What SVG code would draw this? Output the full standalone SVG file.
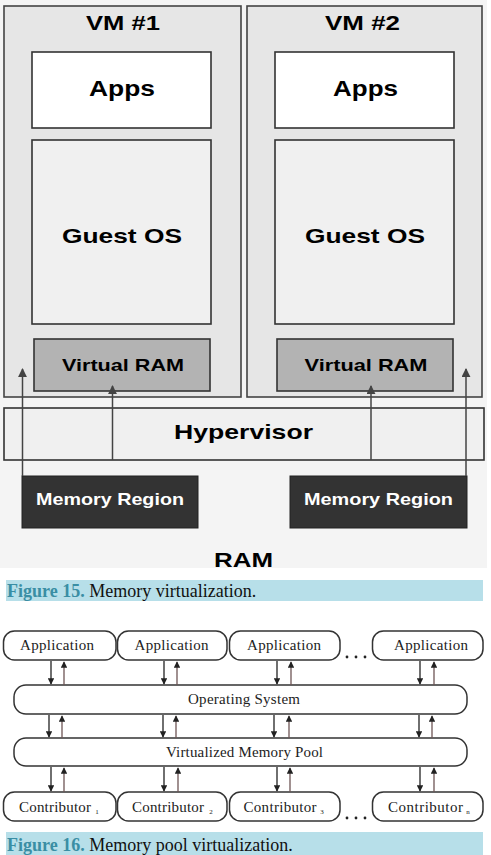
<svg xmlns="http://www.w3.org/2000/svg" width="491" height="855" viewBox="0 0 491 855">
<style>
.b{font-family:"Liberation Sans",Arial,sans-serif;font-weight:bold;text-anchor:middle}
.vm{fill:#e6e6e6;stroke:#444;stroke-width:1.6}
.box{stroke:#333;stroke-width:1.6}
.s{font-family:"Liberation Serif","Times New Roman",serif;font-size:15px;fill:#222;text-anchor:middle}
.sub{font-family:"Liberation Serif","Times New Roman",serif;font-size:7px;fill:#222;text-anchor:middle}
.rb{fill:#fff;stroke:#333;stroke-width:1.5}
.dn{stroke:#222;stroke-width:1.3;marker-end:url(#hd)}
.up{stroke:#6e5555;stroke-width:1.3;marker-end:url(#hu)}
.ar{stroke:#444;stroke-width:1.5;fill:none;marker-end:url(#ha)}
.cap{font-family:"Liberation Serif","Times New Roman",serif;font-size:18px}
</style>
<defs>
<marker id="ha" viewBox="0 0 10 10" refX="9" refY="5" markerWidth="6" markerHeight="6" orient="auto" markerUnits="strokeWidth"><path d="M0,0 L10,5 L0,10 z" fill="#444"/></marker>
<marker id="hd" viewBox="0 0 10 10" refX="9" refY="5" markerWidth="5" markerHeight="5" orient="auto" markerUnits="strokeWidth"><path d="M0,0 L10,5 L0,10 z" fill="#222"/></marker>
<marker id="hu" viewBox="0 0 10 10" refX="9" refY="5" markerWidth="5" markerHeight="5" orient="auto" markerUnits="strokeWidth"><path d="M0,0 L10,5 L0,10 z" fill="#222"/></marker>
</defs>
<rect width="491" height="855" fill="#fff"/>
<rect x="0" y="0" width="487" height="568" fill="#f4f4f4"/>
<g id="vm1">
<rect class="vm" x="4" y="6" width="237" height="391"/>
<text class="b" x="123" y="30" font-size="21" textLength="74" lengthAdjust="spacingAndGlyphs">VM #1</text>
</g>
<g id="vm2">
<rect class="vm" x="247" y="6" width="235" height="391"/>
<text class="b" x="362.5" y="30" font-size="21" textLength="75" lengthAdjust="spacingAndGlyphs">VM #2</text>
</g>
<g id="apps1">
<rect class="box" fill="#fff" x="32" y="52" width="179" height="76"/>
<text class="b" x="122" y="96" font-size="22" textLength="66" lengthAdjust="spacingAndGlyphs">Apps</text>
</g>
<g id="apps2">
<rect class="box" fill="#fff" x="275" y="52" width="179" height="76"/>
<text class="b" x="365.5" y="96" font-size="22" textLength="65" lengthAdjust="spacingAndGlyphs">Apps</text>
</g>
<g id="guest1">
<rect class="box" fill="#f0f0f0" x="32" y="140" width="179" height="184"/>
<text class="b" x="122" y="243" font-size="21" textLength="120" lengthAdjust="spacingAndGlyphs">Guest OS</text>
</g>
<g id="guest2">
<rect class="box" fill="#f0f0f0" x="275" y="140" width="179" height="184"/>
<text class="b" x="365" y="243" font-size="21" textLength="120" lengthAdjust="spacingAndGlyphs">Guest OS</text>
</g>
<g id="vram1">
<rect class="box" fill="#b3b3b3" x="34" y="339" width="176" height="52"/>
<text class="b" x="123" y="371" font-size="17" textLength="122" lengthAdjust="spacingAndGlyphs">Virtual RAM</text>
</g>
<g id="vram2">
<rect class="box" fill="#b3b3b3" x="277" y="339" width="176" height="52"/>
<text class="b" x="366" y="371" font-size="17" textLength="123" lengthAdjust="spacingAndGlyphs">Virtual RAM</text>
</g>
<g id="hypervisor">
<rect class="box" fill="#f0f0f0" x="4" y="408" width="480" height="52"/>
<text class="b" x="243.5" y="439" font-size="21" textLength="139" lengthAdjust="spacingAndGlyphs">Hypervisor</text>
</g>
<g id="mem1">
<rect fill="#333" stroke="#222" stroke-width="1" x="22" y="476" width="176" height="52"/>
<text class="b" x="110" y="505" font-size="16.5" fill="#fff" textLength="148" lengthAdjust="spacingAndGlyphs">Memory Region</text>
</g>
<g id="mem2">
<rect fill="#333" stroke="#222" stroke-width="1" x="290" y="476" width="177" height="52"/>
<text class="b" x="378.5" y="505" font-size="16.5" fill="#fff" textLength="149" lengthAdjust="spacingAndGlyphs">Memory Region</text>
</g>
<g id="ram">
<text class="b" x="243.5" y="567" font-size="21" textLength="59" lengthAdjust="spacingAndGlyphs">RAM</text>
</g>
<g id="connectors-top">
<line class="ar" x1="22.5" y1="476" x2="22.5" y2="369"/>
<line class="ar" x1="112.5" y1="460" x2="112.5" y2="386"/>
<line class="ar" x1="371" y1="460" x2="371" y2="386"/>
<line class="ar" x1="466" y1="476" x2="466" y2="369"/>
</g>
<g id="caption15">
<rect x="6" y="580" width="477" height="21" fill="#b7dfe9"/>
<text class="cap" x="7" y="596.5"><tspan fill="#3a8ea4" font-weight="bold">Figure 15.</tspan><tspan fill="#111"> Memory virtualization.</tspan></text>
</g>
<g id="app1"><rect class="rb" x="3.5" y="631" width="112.5" height="29" rx="11"/><text class="s" x="57" y="650" textLength="74">Application</text></g>
<g id="app2"><rect class="rb" x="117.5" y="631" width="109.5" height="29" rx="11"/><text class="s" x="171.5" y="650" textLength="74">Application</text></g>
<g id="app3"><rect class="rb" x="229.5" y="631" width="110.5" height="29" rx="11"/><text class="s" x="284" y="650" textLength="74">Application</text></g>
<g id="app4"><rect class="rb" x="372.5" y="631" width="110.5" height="29" rx="11"/><text class="s" x="431" y="650" textLength="74">Application</text></g>
<g id="dots-top"><circle cx="347" cy="657" r="1.4" fill="#222"/><circle cx="356" cy="657" r="1.4" fill="#222"/><circle cx="365" cy="657" r="1.4" fill="#222"/></g>
<g id="os"><rect class="rb" x="14" y="685" width="453" height="29" rx="12"/><text class="s" x="244" y="704" textLength="112">Operating System</text></g>
<g id="vmp"><rect class="rb" x="14" y="738" width="453" height="28" rx="12"/><text class="s" x="244.5" y="757" textLength="157">Virtualized Memory Pool</text></g>
<g id="contrib1"><rect class="rb" x="3.5" y="792" width="112.5" height="29" rx="11"/><text class="s" x="55" y="812" textLength="72">Contributor</text><text class="sub" x="97" y="814">1</text></g>
<g id="contrib2"><rect class="rb" x="117.5" y="792" width="109.5" height="29" rx="11"/><text class="s" x="168" y="812" textLength="72">Contributor</text><text class="sub" x="211" y="814">2</text></g>
<g id="contrib3"><rect class="rb" x="229.5" y="792" width="110.5" height="29" rx="11"/><text class="s" x="280" y="812" textLength="73">Contributor</text><text class="sub" x="322" y="814">3</text></g>
<g id="contrib4"><rect class="rb" x="372.5" y="792" width="110.5" height="29" rx="11"/><text class="s" x="425.5" y="812" textLength="75">Contributor</text><text class="sub" x="468" y="814">n</text></g>
<g id="dots-bottom"><circle cx="347" cy="818" r="1.4" fill="#222"/><circle cx="356" cy="818" r="1.4" fill="#222"/><circle cx="365" cy="818" r="1.4" fill="#222"/></g>
<g id="connectors-pool">
<line class="dn" x1="51" y1="661" x2="51" y2="684"/><line class="up" x1="64" y1="685" x2="64" y2="662"/>
<line class="dn" x1="164" y1="661" x2="164" y2="684"/><line class="up" x1="177" y1="685" x2="177" y2="662"/>
<line class="dn" x1="277" y1="661" x2="277" y2="684"/><line class="up" x1="291" y1="685" x2="291" y2="662"/>
<line class="dn" x1="420" y1="661" x2="420" y2="684"/><line class="up" x1="434" y1="685" x2="434" y2="662"/>
<line class="dn" x1="49" y1="715" x2="49" y2="737"/><line class="up" x1="62" y1="738" x2="62" y2="716"/>
<line class="dn" x1="163" y1="715" x2="163" y2="737"/><line class="up" x1="176" y1="738" x2="176" y2="716"/>
<line class="dn" x1="274" y1="715" x2="274" y2="737"/><line class="up" x1="289" y1="738" x2="289" y2="716"/>
<line class="dn" x1="419" y1="715" x2="419" y2="737"/><line class="up" x1="432" y1="738" x2="432" y2="716"/>
<line class="dn" x1="51" y1="767" x2="51" y2="791"/><line class="up" x1="64" y1="792" x2="64" y2="768"/>
<line class="dn" x1="164" y1="767" x2="164" y2="791"/><line class="up" x1="178" y1="792" x2="178" y2="768"/>
<line class="dn" x1="277" y1="767" x2="277" y2="791"/><line class="up" x1="290" y1="792" x2="290" y2="768"/>
<line class="dn" x1="420" y1="767" x2="420" y2="791"/><line class="up" x1="434" y1="792" x2="434" y2="768"/>
</g>
<g id="caption16">
<rect x="6" y="832" width="477" height="23" fill="#b7dfe9"/>
<text class="cap" x="7" y="851"><tspan fill="#3a8ea4" font-weight="bold">Figure 16.</tspan><tspan fill="#111"> Memory pool virtualization.</tspan></text>
</g>
</svg>
